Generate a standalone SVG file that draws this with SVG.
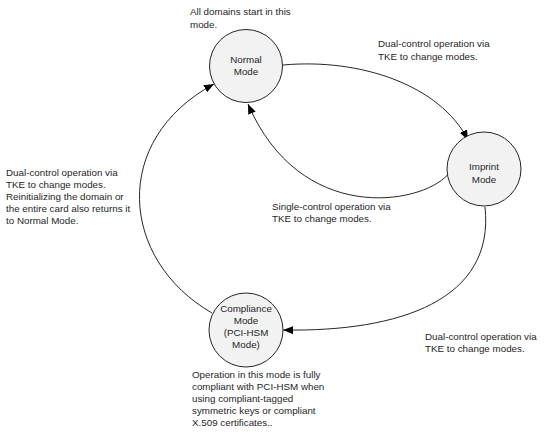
<svg xmlns="http://www.w3.org/2000/svg" width="547" height="438" viewBox="0 0 547 438">
<style>
  .node { fill: #f2f2f2; stroke: #262626; stroke-width: 1; }
  .edge { fill: none; stroke: #262626; stroke-width: 1; }
  text { font-family: "Liberation Sans", Arial, sans-serif; font-size: 9.8px; fill: #262626; }
  .c { text-anchor: middle; }
</style>
<defs>
  <marker id="arrow" viewBox="0 0 10 8" refX="10" refY="4" markerWidth="10" markerHeight="8" markerUnits="userSpaceOnUse" orient="auto">
    <path d="M0,0 L10,4 L0,8 Z" fill="#000"/>
  </marker>
</defs>
<rect width="547" height="438" fill="#fff"/>
<g id="connectors">
  <path class="edge" d="M283,65 C 360,58 440,85 468,140" marker-end="url(#arrow)"/>
  <path class="edge" d="M447.5,175 C 420,205 300,225 248,104" marker-end="url(#arrow)"/>
  <path class="edge" d="M485,207 C 495,300 400,332 283,330" marker-end="url(#arrow)"/>
  <path class="edge" d="M212,313 C 120,260 110,140 214,84" marker-end="url(#arrow)"/>
</g>
<g id="normal">
  <circle class="node" cx="246" cy="66" r="36.5"/>
  <text class="c" x="246" y="63">Normal</text>
  <text class="c" x="246" y="75">Mode</text>
</g>
<g id="imprint">
  <circle class="node" cx="484" cy="169" r="37"/>
  <text class="c" x="484" y="170">Imprint</text>
  <text class="c" x="484" y="183">Mode</text>
</g>
<g id="compliance">
  <circle class="node" cx="246" cy="330" r="37"/>
  <text class="c" x="246" y="312">Compliance</text>
  <text class="c" x="246" y="324">Mode</text>
  <text class="c" x="246" y="336">(PCI-HSM</text>
  <text class="c" x="246" y="348">Mode)</text>
</g>
<g id="labels">
  <text x="190" y="15">All domains start in this</text>
  <text x="190" y="28">mode.</text>
  <text x="378" y="47">Dual-control operation via</text>
  <text x="378" y="60">TKE to change modes.</text>
  <text x="272" y="210">Single-control operation via</text>
  <text x="272" y="222">TKE to change modes.</text>
  <text x="6" y="176">Dual-control operation via</text>
  <text x="6" y="188">TKE to change modes.</text>
  <text x="6" y="200">Reinitializing the domain or</text>
  <text x="6" y="212">the entire card also returns it</text>
  <text x="6" y="224">to Normal Mode.</text>
  <text x="425" y="340">Dual-control operation via</text>
  <text x="425" y="352">TKE to change modes.</text>
  <text x="192" y="378">Operation in this mode is fully</text>
  <text x="192" y="390">compliant with PCI-HSM when</text>
  <text x="192" y="402">using compliant-tagged</text>
  <text x="192" y="414">symmetric keys or compliant</text>
  <text x="192" y="426">X.509 certificates..</text>
</g>
</svg>
